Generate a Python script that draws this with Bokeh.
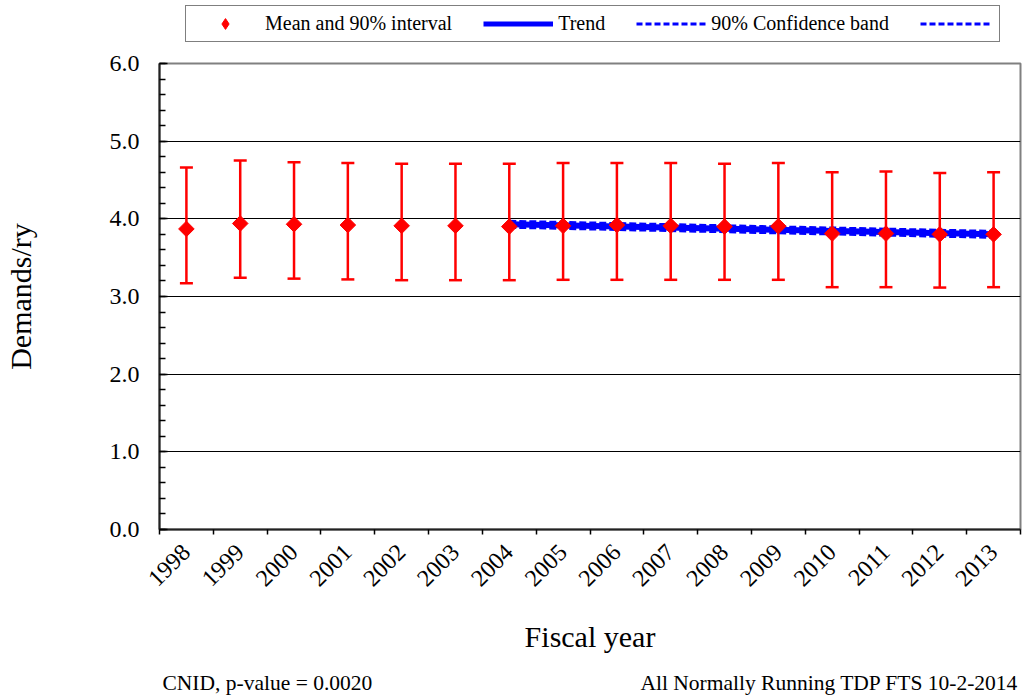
import numpy as np
from bokeh.plotting import figure
from bokeh.layouts import column
from bokeh.models import (Range1d, FixedTicker, Whisker, TeeHead, ColumnDataSource,
                          Legend, LegendItem, NumeralTickFormatter)
from bokeh.core.properties import value
from bokeh.embed import file_html
from bokeh.resources import INLINE

# ---------------- data ----------------
years = ["1998", "1999", "2000", "2001", "2002", "2003", "2004", "2005",
         "2006", "2007", "2008", "2009", "2010", "2011", "2012", "2013"]
mean = [3.87, 3.94, 3.93, 3.92, 3.91, 3.91, 3.90, 3.91,
        3.92, 3.91, 3.90, 3.905, 3.81, 3.81, 3.80, 3.80]
upper = [4.66, 4.75, 4.73, 4.72, 4.71, 4.71, 4.71, 4.72,
         4.72, 4.72, 4.71, 4.72, 4.60, 4.61, 4.59, 4.60]
lower = [3.17, 3.24, 3.23, 3.22, 3.21, 3.21, 3.21, 3.215,
         3.215, 3.215, 3.215, 3.215, 3.12, 3.12, 3.115, 3.12]
trend_years = ["2004", "2013"]
trend = [3.93, 3.80]
band_upper = [3.965, 3.835]
band_lower = [3.895, 3.765]
y_ticks = [0, 1, 2, 3, 4, 5, 6]
legend_labels = ["Mean and 90% interval", "Trend", "90% Confidence band", ""]
footer_left = "CNID, p-value = 0.0020"
footer_right = "All Normally Running TDP FTS 10-2-2014"

FONT = "Liberation Serif"
RED = "#FF0000"
BLUE = "#0000FF"

centers = [i + 0.5 for i in range(len(years))]
tx = [years.index(y) + 0.5 for y in trend_years]

W = 1022
BL, BR = 159, 2          # frame spans x = 159 .. 1020 in every strip
FL, FR = BL, W - BR

def strip(height):
    s = figure(width=W, height=height, x_range=Range1d(FL, FR), y_range=Range1d(0, height),
               output_backend="svg", toolbar_location=None,
               min_border_left=BL, min_border_right=BR, min_border_top=0, min_border_bottom=0,
               x_axis_location=None, y_axis_location=None,
               background_fill_color="white", border_fill_color="white")
    s.outline_line_color = None
    s.grid.visible = False
    return s

# ---------------- legend strip ----------------
TH = 48
t = strip(TH)
nan = np.array([np.nan])
l_mean = t.scatter(x=nan, y=nan, marker="diamond", size=11,
                   fill_color=RED, line_color=RED)
l_trend = t.line(x=nan, y=nan, line_color=BLUE, line_width=5)
l_up = t.line(x=nan, y=nan, line_color=BLUE, line_width=3, line_dash="6 3")
l_lo = t.line(x=nan, y=nan, line_color=BLUE, line_width=3, line_dash="6 3")
legend = Legend(items=[
    LegendItem(label=value(legend_labels[0]), renderers=[l_mean]),
    LegendItem(label=value(legend_labels[1]), renderers=[l_trend]),
    LegendItem(label=value(legend_labels[2]), renderers=[l_up]),
    LegendItem(label=value(legend_labels[3]), renderers=[l_lo]),
], orientation="horizontal", location=(26, TH - 42), glyph_width=70, glyph_height=27,
    label_height=27, label_width=0, label_standoff=5, spacing=31, padding=4, margin=0,
    label_text_font=FONT, label_text_font_size="20px", label_text_color="black",
    border_line_color="black", border_line_width=1,
    background_fill_color="white", background_fill_alpha=1.0)
t.add_layout(legend)

# ---------------- main plot ----------------
p = figure(width=W, height=620, x_range=Range1d(0, len(years)), y_range=Range1d(0, 6),
           output_backend="svg", toolbar_location=None,
           min_border_left=BL, min_border_right=BR, min_border_top=63 - TH,
           min_border_bottom=139,
           background_fill_color="white", border_fill_color="white")
p.outline_line_color = "#808080"
p.outline_line_width = 2

p.xgrid.visible = False
p.ygrid.grid_line_color = "black"
p.ygrid.grid_line_width = 1

p.xaxis.ticker = FixedTicker(ticks=centers, minor_ticks=list(range(len(years) + 1)))
p.xaxis.major_label_overrides = {c: y for c, y in zip(centers, years)}
p.xaxis.major_tick_out = 0
p.xaxis.major_tick_in = 0
p.xaxis.minor_tick_out = 5
p.xaxis.minor_tick_in = 0
p.xaxis.minor_tick_line_color = "black"
p.xaxis.minor_tick_line_width = 1.5
p.xaxis.major_label_orientation = np.pi / 4
p.xaxis.major_label_standoff = 14
p.xaxis.major_label_text_font = FONT
p.xaxis.major_label_text_font_size = "24px"
p.xaxis.major_label_text_color = "black"
p.xaxis.axis_label = "Fiscal year"
p.xaxis.axis_label_text_font = FONT
p.xaxis.axis_label_text_font_size = "30px"
p.xaxis.axis_label_text_font_style = "normal"
p.xaxis.axis_label_text_color = "black"
p.xaxis.axis_label_standoff = 24
p.xaxis.axis_line_color = "#222222"
p.xaxis.axis_line_width = 2

p.yaxis.ticker = FixedTicker(ticks=y_ticks, minor_ticks=[v / 5 for v in range(31)])
p.yaxis.formatter = NumeralTickFormatter(format="0.0")
p.yaxis.major_tick_out = 0
p.yaxis.major_tick_in = 8
p.yaxis.minor_tick_out = 0
p.yaxis.minor_tick_in = 6
p.yaxis.major_tick_line_color = "black"
p.yaxis.minor_tick_line_color = "black"
p.yaxis.major_tick_line_width = 1.5
p.yaxis.minor_tick_line_width = 1.5
p.yaxis.major_label_standoff = 20
p.yaxis.major_label_text_font = FONT
p.yaxis.major_label_text_font_size = "24px"
p.yaxis.major_label_text_color = "black"
p.yaxis.axis_label = "Demands/ry"
p.yaxis.axis_label_text_font = FONT
p.yaxis.axis_label_text_font_size = "30px"
p.yaxis.axis_label_text_font_style = "normal"
p.yaxis.axis_label_text_color = "black"
p.yaxis.axis_label_standoff = 70
p.yaxis.axis_line_color = "#222222"
p.yaxis.axis_line_width = 2

src = ColumnDataSource(dict(x=centers, mean=mean, upper=upper, lower=lower))
w = Whisker(base="x", upper="upper", lower="lower", source=src,
            line_color=RED, line_width=2.5, level="underlay",
            upper_head=TeeHead(size=13, line_color=RED, line_width=2.5),
            lower_head=TeeHead(size=13, line_color=RED, line_width=2.5))
p.add_layout(w)

p.line(tx, trend, line_color=BLUE, line_width=6)
p.line(tx, band_upper, line_color=BLUE, line_width=3.5, line_dash="7 3")
p.line(tx, band_lower, line_color=BLUE, line_width=3.5, line_dash="7 3")

p.scatter("x", "mean", source=src, marker="square", angle=np.pi / 4, size=11,
          fill_color=RED, line_color=RED)

# ---------------- footer strip ----------------
f = strip(30)
f.text(x=[162], y=[16], text=[footer_left], text_align="left", text_baseline="middle",
       text_font=value(FONT), text_font_size="21.5px", text_color="black")
f.text(x=[1018], y=[16], text=[footer_right], text_align="right", text_baseline="middle",
       text_font=value(FONT), text_font_size="21.5px", text_color="black")

open("out.html", "w").write(file_html(column(t, p, f, spacing=0), INLINE))
